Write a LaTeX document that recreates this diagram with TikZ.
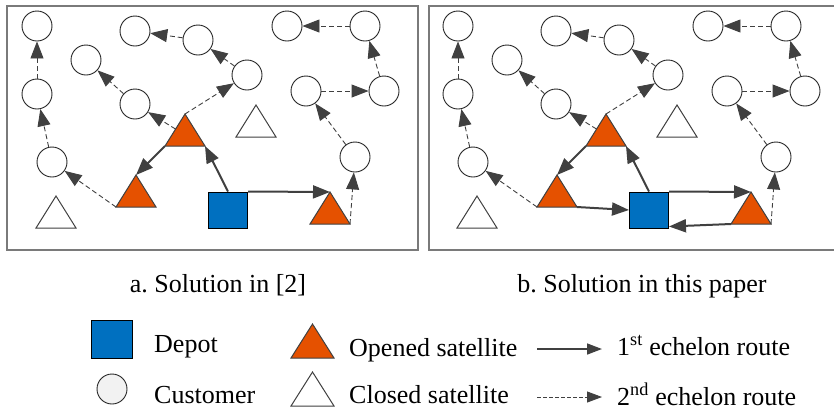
\documentclass[tikz,border=0pt]{standalone}
\usepackage{fontspec}
\setmainfont{Liberation Serif}
\newfontfamily\figfont{Liberation Serif}
\usetikzlibrary{arrows.meta,shapes.geometric}
\definecolor{depotblue}{HTML}{0070C0}
\definecolor{satorange}{HTML}{E55100}
\definecolor{routegray}{HTML}{404040}
\definecolor{framegray}{HTML}{7A7A7A}
\tikzset{
  customer/.style={circle,draw=black!85,line width=0.9pt,fill=white,minimum size=30pt,inner sep=0pt},
  depot/.style={rectangle,draw=black,line width=1pt,fill=depotblue,minimum width=39pt,minimum height=36pt,inner sep=0pt},
  satellite/.style={isosceles triangle,isosceles triangle stretches,shape border rotate=90,draw=routegray,line width=1pt,minimum width=40pt,minimum height=32pt,inner sep=0pt,outer sep=0pt},
  opened/.style={satellite,fill=satorange},
  closed/.style={satellite,fill=white},
  first/.style={draw=routegray,line width=2pt,-{Triangle[length=17pt,width=13pt]}},
  second/.style={draw=routegray,line width=0.9pt,dash pattern=on 5pt off 3pt,-{Triangle[length=17pt,width=13pt]}},
  frame/.style={draw=framegray,line width=1.5pt},
  lbl/.style={font=\figfont\fontsize{26}{30}\selectfont,inner sep=0pt}
}
\begin{document}
\begin{tikzpicture}[x=1pt,y=-1pt]
  \useasboundingbox (0,0) rectangle (834,416);
  % panels
  \draw[frame] (7,6) rectangle (418,250);
  \draw[frame] (429,6) rectangle (840,250);
  \foreach \p/\dx in {a/0,b/421}{
    \begin{scope}[xshift=\dx]
      \node[customer] (\p-c1) at (37,26) {};
      \node[customer] (\p-c2) at (37,94) {};
      \node[customer] (\p-c3) at (52,162) {};
      \node[customer] (\p-c4) at (86,60) {};
      \node[customer] (\p-c5) at (135,31) {};
      \node[customer] (\p-c6) at (198,40) {};
      \node[customer] (\p-c7) at (247,75) {};
      \node[customer] (\p-c8) at (135,104) {};
      \node[customer] (\p-c9) at (287,26) {};
      \node[customer] (\p-c10) at (365,26) {};
      \node[customer] (\p-c11) at (306,91) {};
      \node[customer] (\p-c12) at (384,91) {};
      \node[customer] (\p-c13) at (355,157) {};
      \node[closed,anchor=left corner] (\p-t1) at (36,228) {};
      \node[closed,anchor=left corner] (\p-t2) at (236,137) {};
      \node[opened,anchor=left corner] (\p-s1) at (116,207) {};
      \node[opened,anchor=left corner] (\p-s2) at (165,146) {};
      \node[opened,anchor=left corner] (\p-s3) at (310,224) {};
      \node[depot] (\p-dep) at (228,210) {};
      % 1st echelon
      \draw[first] (\p-dep.north) -- (\p-s2.right corner);
      \draw[first] (\p-s2.left corner) -- (\p-s1.apex);
      \draw[first] (\p-dep.north east) -- (\p-s3.apex);
      % 2nd echelon
      \draw[second] (\p-s1.left corner) -- (\p-c3);
      \draw[second] (\p-c3) -- (\p-c2);
      \draw[second] (\p-c2) -- (\p-c1);
      \draw[second] (\p-s2) -- (\p-c8);
      \draw[second] (\p-c8) -- (\p-c4);
      \draw[second] (\p-s2.apex) -- (\p-c7);
      \draw[second] (\p-c7) -- (\p-c6);
      \draw[second] (\p-c6) -- (\p-c5);
      \draw[second] (\p-s3.right corner) -- (\p-c13);
      \draw[second] (\p-c13) -- (\p-c11);
      \draw[second] (\p-c11) -- (\p-c12);
      \draw[second] (\p-c12) -- (\p-c10);
      \draw[second] (\p-c10) -- (\p-c9);
    \end{scope}
  }
  % routes back to the depot
  \draw[first] (b-s1.right corner) -- (b-dep.west);
  \draw[first] (b-s3.left corner) -- ([yshift=2pt]b-dep.south east);
  % captions
  \node[lbl,anchor=base] (capa) at (218,292) {a.\ Solution in [2]};
  \node[lbl,anchor=base] (capb) at (642,292) {b.\ Solution in this paper};
  % legend
  \node[depot,minimum width=41pt,minimum height=38pt] (ldep) at (111.5,339) {};
  \node[lbl,anchor=base west] (tdep) at (154,352) {Depot};
  \node[customer,fill=gray!10] (lcus) at (112,389) {};
  \node[lbl,anchor=base west] (tcus) at (154,403) {Customer};
  \node[opened,minimum width=43pt,minimum height=34pt,anchor=left corner] (lopen) at (291,358) {};
  \node[lbl,anchor=base west] (topen) at (349,356) {Opened satellite};
  \node[closed,minimum width=43pt,minimum height=34pt,anchor=left corner] (lclos) at (291,406) {};
  \node[lbl,anchor=base west] (tclos) at (349,403) {Closed satellite};
  \coordinate (r1a) at (537,349);
  \coordinate (r1b) at (602,349);
  \coordinate (r2a) at (537,397);
  \coordinate (r2b) at (602,397);
  \draw[first,line width=1.6pt,-{Triangle[length=15pt,width=11pt]}] (r1a) -- (r1b);
  \draw[second,dash pattern=on 4pt off 2pt,-{Triangle[length=15pt,width=11pt]}] (r2a) -- (r2b);
  \node[lbl,anchor=base west] (tr1) at (617,355) {1\textsuperscript{st} echelon route};
  \node[lbl,anchor=base west] (tr2) at (617,405) {2\textsuperscript{nd} echelon route};
\end{tikzpicture}
\end{document}
